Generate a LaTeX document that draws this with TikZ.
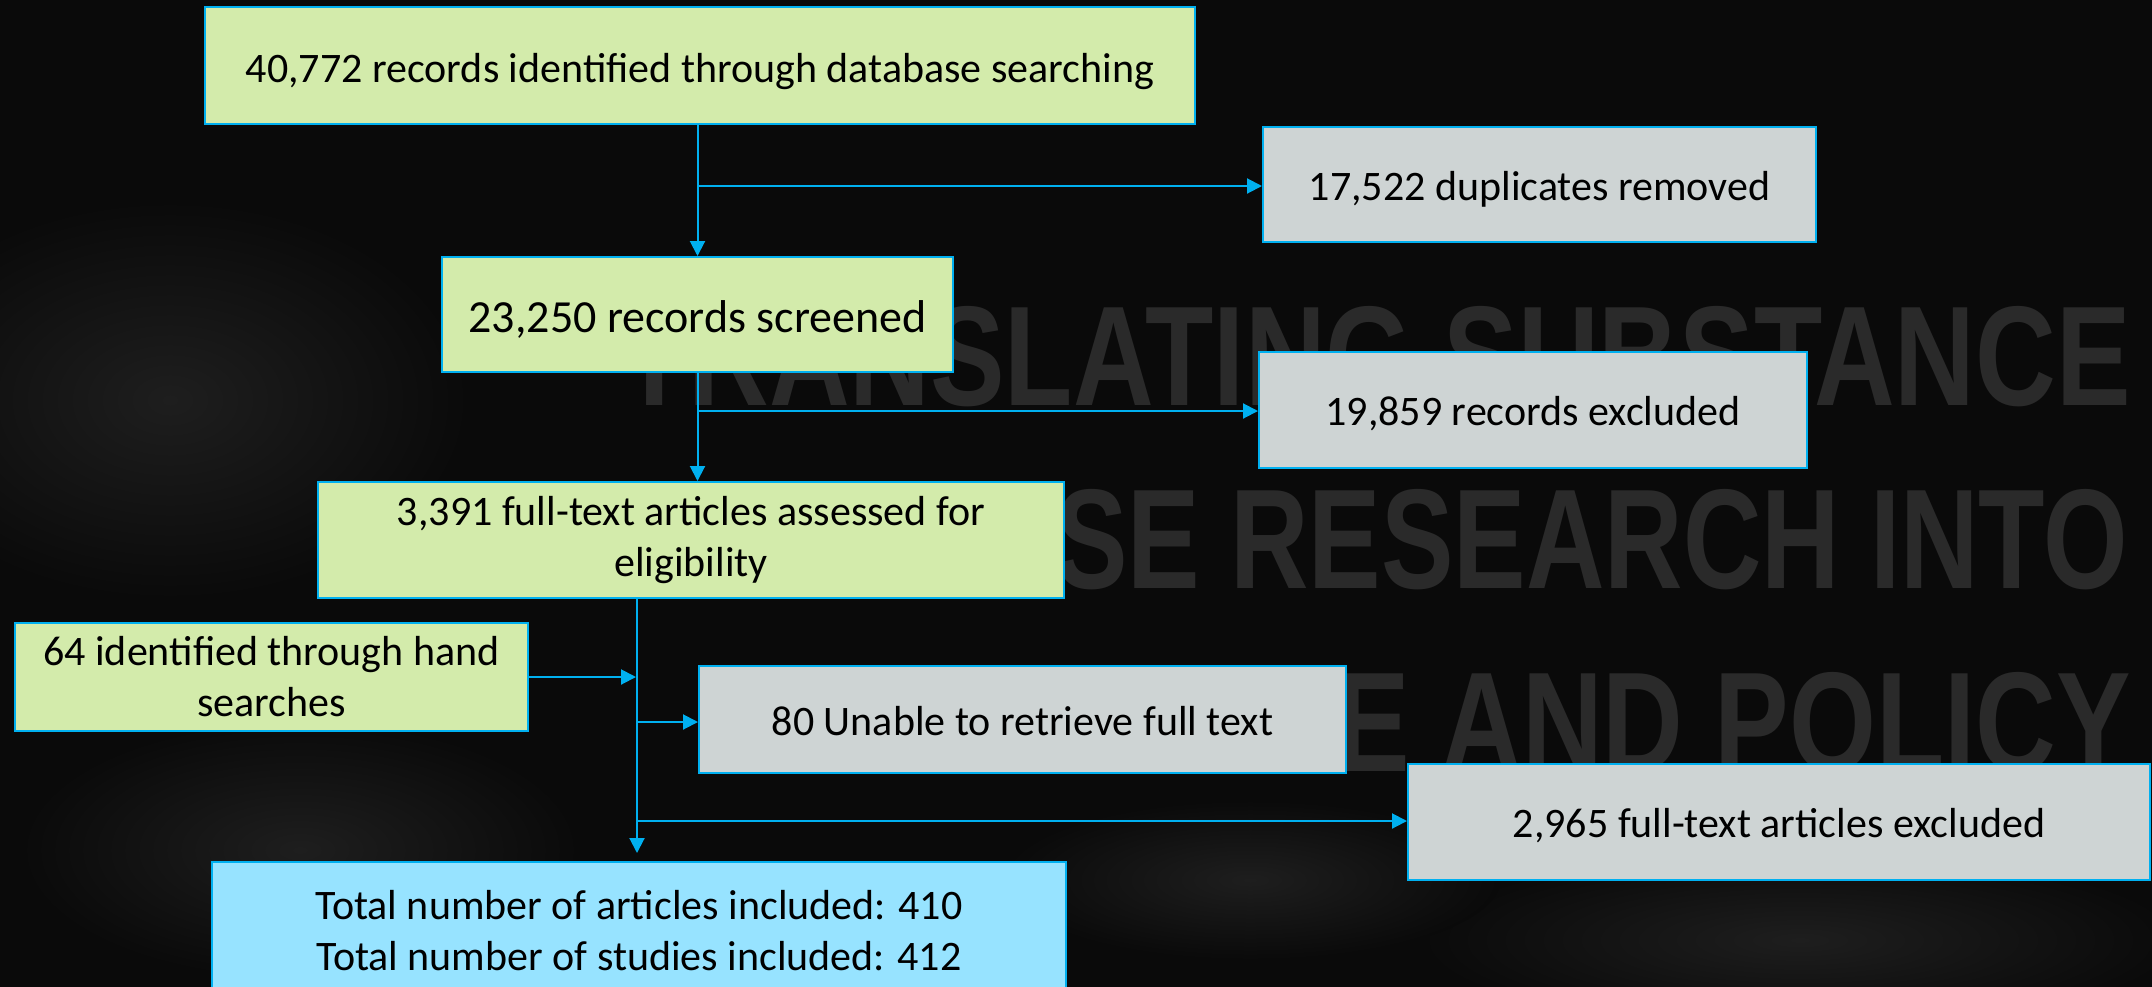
\documentclass[tikz,border=0pt]{standalone}
\usepackage{fontspec}
\setmainfont{Carlito}
\newfontfamily\wmfont{Liberation Sans}
\usetikzlibrary{arrows.meta}
\definecolor{bg}{RGB}{10,10,10}
\definecolor{cloud}{RGB}{30,30,30}
\definecolor{grn}{RGB}{211,235,171}
\definecolor{gry}{RGB}{206,212,212}
\definecolor{blu}{RGB}{151,227,255}
\definecolor{edge}{RGB}{0,176,240}
\definecolor{wm}{RGB}{42,42,42}
\tikzset{
  box/.style={draw=edge, line width=2pt, align=center, inner sep=0pt, text=black,
    font=\fontsize{42}{51}\selectfont},
  oneline/.style={text height=31pt, text depth=0pt},
  greenbox/.style={box, fill=grn},
  greybox/.style={box, fill=gry},
  bluebox/.style={box, fill=blu},
  arr/.style={draw=edge, line width=2pt, -{Triangle[length=15pt,width=15pt]}},
  wmtext/.style={anchor=base east, inner sep=0pt, text=wm,
    font=\wmfont\bfseries\fontsize{142}{142}\selectfont}
}
\begin{document}
\begin{tikzpicture}[x=1pt,y=-1pt]
\useasboundingbox (0,0) rectangle (2152,986);
\fill[bg] (-20,-20) rectangle (2172,1006);
\clip (-20,-20) rectangle (2172,1006);
% faint clouds
\shade[inner color=cloud, outer color=bg] (170,400) ellipse [x radius=300, y radius=200];
\shade[inner color=cloud, outer color=bg] (300,850) ellipse [x radius=280, y radius=130];
\shade[inner color=cloud, outer color=bg] (1800,940) ellipse [x radius=380, y radius=90];
\shade[inner color=cloud, outer color=bg] (1250,880) ellipse [x radius=250, y radius=80];
% watermark title
\node[wmtext] (wm1) at (2131,405) {\scalebox{0.787}[1]{TRANSLATING SUBSTANCE}};
\node[wmtext] (wm2) at (2128,588) {\scalebox{0.765}[1]{USE RESEARCH INTO}};
\node[wmtext] (wm3) at (2131,771) {\scalebox{0.787}[1]{PRACTICE AND POLICY}};
% boxes
\node[greenbox, oneline, text height=33pt, minimum width=990pt, minimum height=117pt] (ident) at (700,65.5)
  {40,772 records identified through database searching};
\node[greybox, oneline, minimum width=553pt, minimum height=115pt] (dup) at (1539.5,184.5)
  {17,522 duplicates removed};
\node[greenbox, oneline, text height=35pt, minimum width=511pt, minimum height=115pt, font=\fontsize{46}{55}\selectfont] (screen) at (697.5,314.5)
  {23,250 records screened};
\node[greybox, oneline, minimum width=548pt, minimum height=116pt] (excl) at (1533,410)
  {19,859 records excluded};
\node[greenbox, minimum width=746pt, minimum height=116pt] (full) at (691,540)
  {3,391 full-text articles assessed for\\eligibility};
\node[greenbox, minimum width=513pt, minimum height=108pt] (hand) at (271.5,677)
  {64 identified through hand\\searches};
\node[greybox, oneline, minimum width=647pt, minimum height=107pt] (unable) at (1022.5,719.5)
  {80 Unable to retrieve full text};
\node[greybox, oneline, minimum width=742pt, minimum height=116pt] (fexcl) at (1779,822)
  {2,965 full-text articles excluded};
\node[bluebox, minimum width=854pt, minimum height=138pt] (incl) at (639,931)
  {Total number of articles included: 410\\Total number of studies included: 412};
% junctions
\coordinate (j1) at (697,186);
\coordinate (j2) at (697,411);
\coordinate (v) at (637,598);
\coordinate (j3) at (637,722);
\coordinate (j4) at (637,821);
\coordinate (vend) at (637,853);
% connectors
\draw[arr] (screen.north |- ident.south) -- (screen.north);
\draw[arr] (j1) -- (j1 -| dup.west);
\draw[arr] (screen.south) -- (screen.south |- full.north);
\draw[arr] (j2) -- (j2 -| excl.west);
\draw[arr] (v) -- (vend);
\draw[arr, shorten >=1pt] (hand.east) -- (hand.east -| v);
\draw[arr] (j3) -- (j3 -| unable.west);
\draw[arr] (j4) -- (j4 -| fexcl.west);
\end{tikzpicture}
\end{document}
